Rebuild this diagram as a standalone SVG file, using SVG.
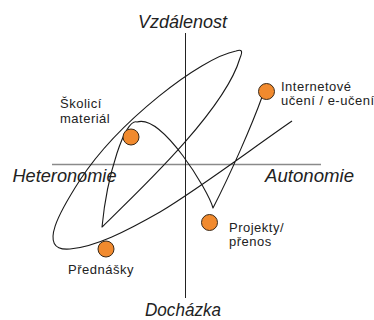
<svg xmlns="http://www.w3.org/2000/svg" width="374" height="320" viewBox="0 0 374 320">
<style>
.axis-h{stroke:#8a8a8a;stroke-width:1.6;fill:none}
.axis-v{stroke:#222;stroke-width:1;fill:none}
.curve{stroke:#1a1a1a;stroke-width:1.1;fill:none;stroke-linejoin:round}
.dot{fill:#F18A2E;stroke:#3a2a1a;stroke-width:1}
.ax{font-family:"Liberation Sans",Arial,sans-serif;font-style:italic;font-size:17.5px;fill:#222}
.lbl{font-family:"Liberation Sans",Arial,sans-serif;font-size:13px;letter-spacing:0.5px;fill:#222}
</style>
<g id="axes">
<line class="axis-h" x1="52" y1="164.5" x2="321" y2="164.5"/>
<line class="axis-v" x1="185.5" y1="33" x2="185.5" y2="298"/>
<text class="ax" x="138" y="27.5" textLength="89" lengthAdjust="spacingAndGlyphs">Vzdálenost</text>
<text class="ax" x="12.5" y="182" textLength="104" lengthAdjust="spacingAndGlyphs">Heteronomie</text>
<text class="ax" x="265" y="182" textLength="89" lengthAdjust="spacingAndGlyphs">Autonomie</text>
<text class="ax" x="145" y="315.5" textLength="76" lengthAdjust="spacingAndGlyphs">Docházka</text>
</g>
<g id="connectors">
<path class="curve" d="M262,97 C252,125 230,175 213,208 C208,190 162,114 137,122 C125,118 107,175 102,227 C140,190 225,110 240,58 C243,51 242,49 236,51 C200,58 118,122 80,180 C62,208 35,252 70,249 C95,247 125,232 160,212 C200,188 250,150 292,121"/>
</g>
<g id="skolici">
<circle class="dot" cx="131" cy="137" r="8"/>
<text class="lbl" x="60" y="108">Školicí</text>
<text class="lbl" x="60" y="122.5">materiál</text>
</g>
<g id="internet">
<circle class="dot" cx="266.5" cy="91.5" r="8"/>
<text class="lbl" x="281" y="90.5">Internetové</text>
<text class="lbl" x="281" y="105">učení / e-učení</text>
</g>
<g id="projekty">
<circle class="dot" cx="209.5" cy="222.5" r="8"/>
<text class="lbl" x="229" y="231.5">Projekty/</text>
<text class="lbl" x="229" y="246">přenos</text>
</g>
<g id="prednasky">
<circle class="dot" cx="106" cy="249" r="8"/>
<text class="lbl" x="68" y="273.5">Přednášky</text>
</g>
</svg>
